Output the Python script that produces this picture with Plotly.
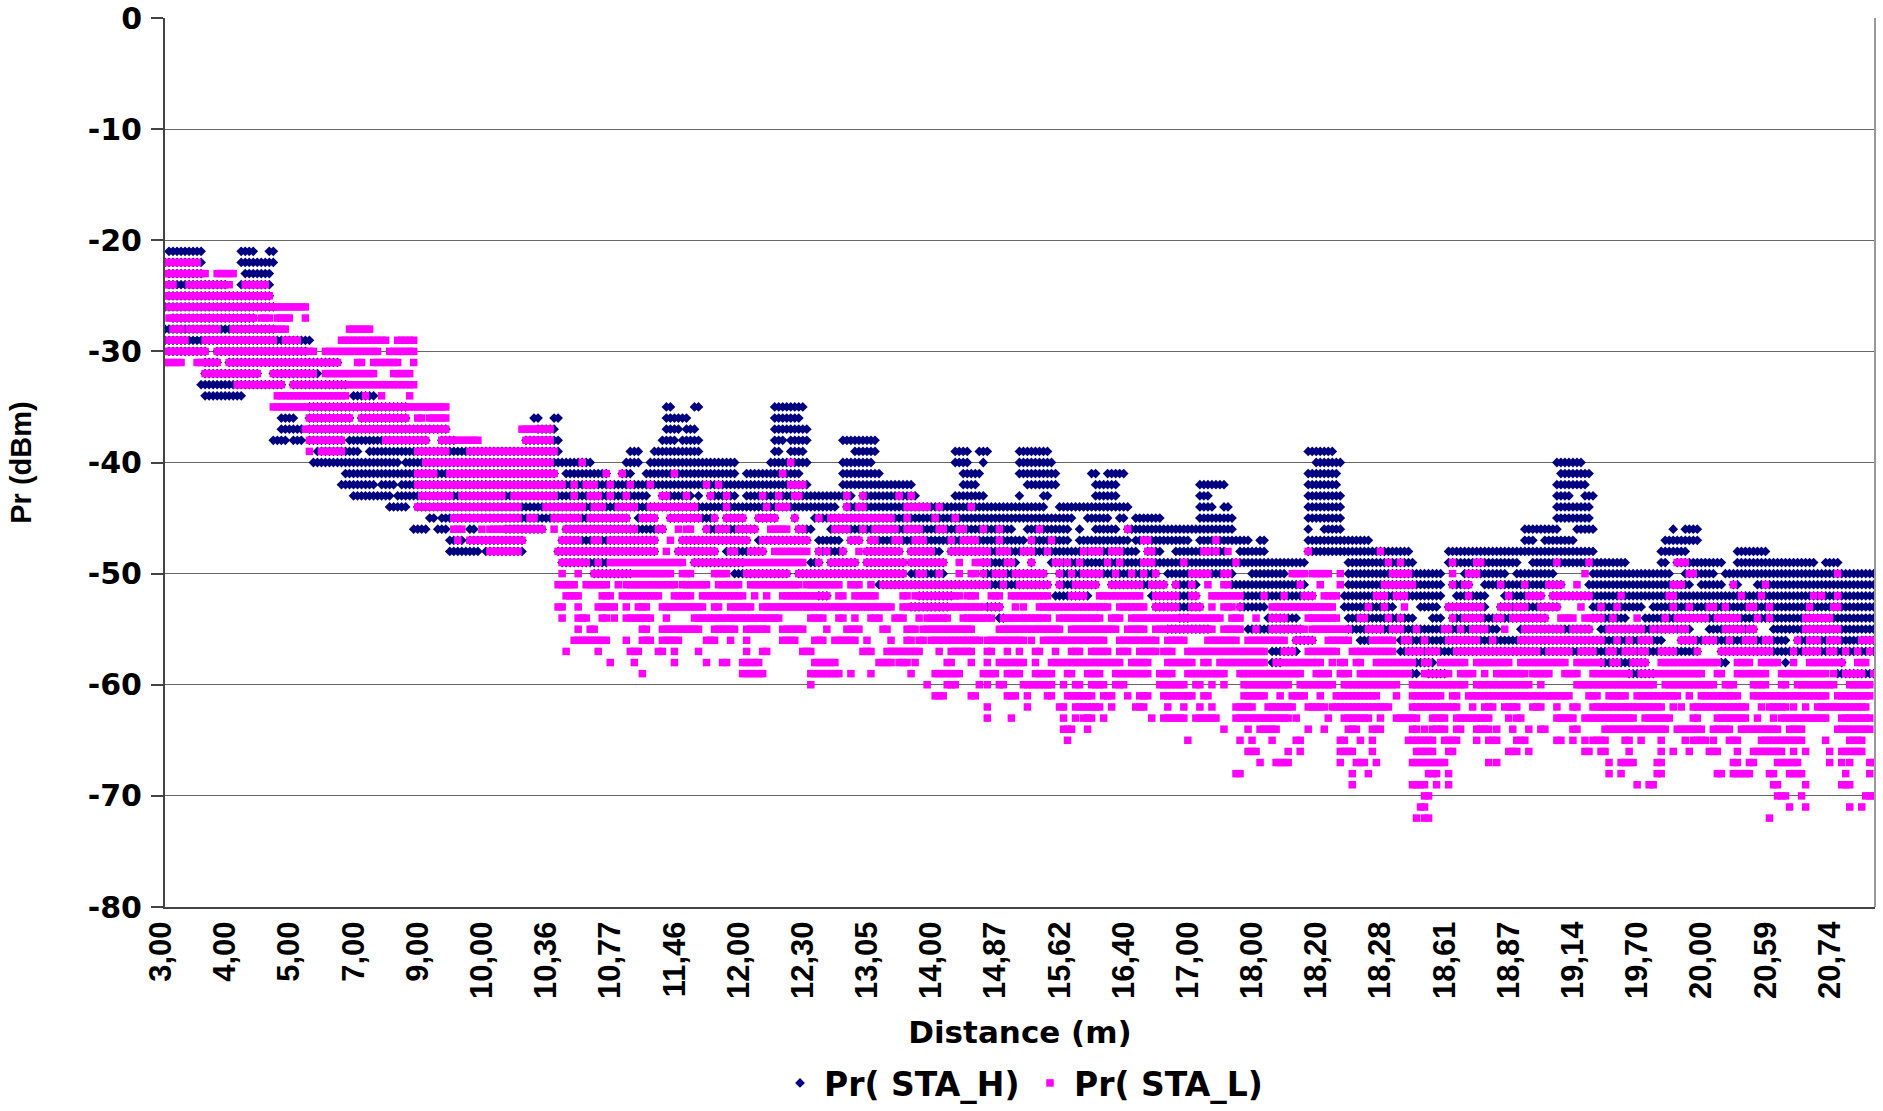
import plotly.graph_objects as go

# Sample index on a category axis: 16 samples between printed labels.
DIST_LABELS = ["3,00","4,00","5,00","7,00","9,00","10,00","10,36","10,77","11,46","12,00","12,30","13,05","14,00",
               "14,87","15,62","16,40","17,00","18,00","18,20","18,28","18,61","18,87","19,14","19,70","20,00","20,59","20,74"]
LABEL_STEP = 16
N_SAMPLES = 427

# Received power readings, run-length coded: {dBm level: runs of consecutive samples}
PR_STA_H = {
-21:[(1,9),(19,22),(26,27)],
-22:[(0,9),(19,27)],
-23:[(1,9),(20,26)],
-24:[(1,15),(19,26)],
-25:[(1,26)],
-26:[(0,27)],
-27:[(2,22)],
-28:[(0,27)],
-29:[(0,36)],
-30:[(1,10),(13,35)],
-31:[(10,13),(16,43)],
-32:[(10,23),(27,38)],
-33:[(9,29),(32,45)],
-34:[(10,19),(47,52)],
-35:[(36,60),(125,126),(132,133),(152,159)],
-36:[(29,32),(36,46),(49,60),(92,93),(97,98),(125,130),(152,158)],
-37:[(29,34),(36,70),(93,97),(125,128),(130,132),(152,160)],
-38:[(27,30),(32,34),(36,44),(46,65),(69,72),(90,98),(124,127),(129,133),(152,154),(156,160),(169,177)],
-39:[(38,48),(51,98),(116,118),(122,133),(152,153),(156,159),(172,177),(197,200),(203,205),(213,220),(285,291)],
-40:[(37,58),(60,106),(115,118),(121,142),(151,160),(169,176),(197,200),(204,204),(213,221),(287,293),(347,353)],
-41:[(45,97),(100,110),(114,116),(120,142),(145,158),(169,178),(199,203),(213,222),(231,232),(235,239),(285,292),(348,355)],
-42:[(44,52),(54,57),(59,160),(169,186),(199,202),(215,222),(232,237),(258,264),(285,292),(347,354)],
-43:[(47,56),(58,120),(124,131),(133,133),(136,142),(145,171),(174,187),(197,204),(213,213),(219,220),(232,237),(258,260),(285,293),(347,350),(354,356)],
-44:[(56,60),(63,167),(170,219),(223,240),(258,261),(264,265),(285,293),(347,355)],
-45:[(66,67),(69,115),(118,122),(126,137),(140,144),(148,152),(157,157),(162,226),(230,235),(238,239),(242,248),(258,266),(285,293),(347,355)],
-46:[(62,65),(68,70),(76,77),(85,94),(100,122),(123,124),(135,147),(158,161),(166,211),(215,225),(228,228),(232,237),(240,266),(285,285),(289,293),(339,347),(352,356),(376,376),(379,382)],
-47:[(71,74),(76,89),(99,122),(129,145),(148,160),(163,168),(171,173),(176,214),(216,225),(228,240),(242,255),(258,270),(273,274),(285,300),(339,341),(344,351),(374,382)],
-48:[(71,78),(80,89),(98,122),(128,137),(140,149),(163,169),(175,183),(186,193),(196,242),(245,248),(252,264),(268,274),(285,310),(320,356),(373,379),(392,399)],
-49:[(99,110),(132,144),(161,163),(166,172),(175,184),(186,194),(204,212),(216,216),(221,284),(295,311),(320,337),(341,364),(373,374),(377,388),(392,411),(414,417)],
-50:[(107,116),(142,155),(158,184),(186,194),(204,219),(223,247),(250,266),(271,279),(295,318),(324,334),(337,346),(356,375),(379,386),(389,426)],
-51:[(178,220),(223,232),(236,249),(252,257),(266,284),(295,318),(321,325),(329,348),(355,380),(383,388),(391,392),(397,427)],
-52:[(163,165),(188,196),(222,230),(246,257),(269,286),(294,318),(322,329),(334,343),(346,355),(356,427)],
-53:[(186,195),(205,208),(247,258),(268,274),(294,306),(313,317),(320,329),(333,347),(356,368),(371,427)],
-54:[(208,209),(253,255),(275,282),(295,311),(316,318),(321,344),(356,364),(369,426)],
-55:[(250,260),(270,283),(295,332),(338,355),(358,380),(385,396),(401,426)],
-56:[(282,286),(298,300),(308,373),(378,404),(407,426)],
-57:[(276,282),(308,382),(388,426)],
-58:[(276,278),(312,316),(358,369),(388,389),(404,404),(418,418)],
-59:[(311,312),(315,319),(365,371),(417,427)],
}

PR_STA_L = {
-22:[(0,8)],
-23:[(0,10),(13,17)],
-24:[(0,2),(6,16),(20,25)],
-25:[(0,26)],
-26:[(1,35)],
-27:[(1,22),(24,26),(28,31),(35,35)],
-28:[(2,4),(6,13),(17,30),(46,51)],
-29:[(1,5),(10,27),(30,33),(44,55),(58,62)],
-30:[(0,10),(13,37),(40,53),(56,62)],
-31:[(0,4),(8,13),(16,43),(48,49),(52,58),(62,62)],
-32:[(10,23),(27,37),(40,52),(57,61)],
-33:[(18,29),(32,62)],
-34:[(28,45),(50,50),(54,54),(61,61)],
-35:[(27,70)],
-36:[(36,46),(49,60),(63,64),(66,70)],
-37:[(35,70),(89,96)],
-38:[(36,44),(55,65),(69,78),(90,96)],
-39:[(36,36),(39,44),(63,70),(76,97)],
-40:[(65,96),(104,104),(156,156)],
-41:[(63,67),(71,97),(110,110),(114,114),(127,127),(154,154)],
-42:[(63,99),(102,102),(105,107),(111,111),(116,116),(121,121),(135,135),(138,138),(156,159)],
-43:[(64,71),(74,84),(87,97),(102,102),(106,108),(111,111),(115,115),(124,125),(130,130),(136,136),(140,140),(149,149),(153,153),(157,158),(170,170),(174,174),(183,183),(186,186)],
-44:[(63,88),(95,104),(107,109),(113,117),(121,132),(140,140),(150,150),(153,155),(170,170),(173,174),(185,190),(193,193),(201,201)],
-45:[(72,88),(91,92),(97,103),(106,115),(119,122),(126,133),(137,137),(140,144),(148,152),(157,157),(163,163),(166,181),(185,185),(192,192),(197,197)],
-46:[(72,74),(79,79),(81,94),(97,97),(100,117),(123,124),(128,128),(130,131),(135,135),(138,140),(143,147),(151,155),(158,159),(167,170),(174,174),(177,182),(185,188),(193,194),(198,199),(204,204),(208,208),(218,218),(240,240)],
-47:[(73,73),(76,89),(99,103),(107,108),(111,122),(126,126),(129,145),(149,160),(171,173),(176,177),(182,183),(187,189),(196,196),(199,202),(208,208),(216,216),(221,221),(244,245),(262,262)],
-48:[(81,88),(98,122),(125,125),(128,137),(141,142),(146,149),(152,160),(163,163),(165,165),(169,169),(173,173),(175,183),(186,191),(196,203),(204,205),(208,210),(214,216),(220,220),(229,229),(231,233),(236,238),(245,246),(259,260),(262,262),(265,265),(285,285),(303,303)],
-49:[(99,105),(108,108),(111,129),(132,159),(163,163),(166,172),(175,184),(186,194),(198,198),(202,205),(210,211),(216,216),(222,223),(225,225),(228,228),(235,235),(238,238),(244,246),(254,254),(267,267),(305,305),(308,308),(321,321),(327,328),(347,347),(355,355),(377,379)],
-50:[(99,99),(103,103),(107,126),(129,131),(137,140),(145,155),(158,184),(188,189),(193,193),(198,198),(201,202),(204,204),(207,209),(212,219),(223,223),(226,226),(229,233),(237,237),(241,241),(244,244),(247,247),(256,260),(264,265),(281,284),(286,290),(293,293),(306,310),(321,321),(325,327),(354,354),(380,381),(417,417)],
-51:[(98,102),(105,110),(113,113),(115,127),(129,135),(138,143),(146,158),(160,168),(171,173),(176,176),(179,205),(209,209),(213,220),(223,223),(227,232),(236,243),(246,249),(252,252),(256,256),(260,260),(264,265),(283,283),(288,288),(293,293),(304,311),(321,321),(324,325),(333,333),(339,339),(345,348),(352,352),(376,378),(391,391),(399,399)],
-52:[(100,103),(109,111),(114,123),(127,131),(134,144),(147,147),(150,150),(154,165),(168,169),(172,177),(184,185),(187,198),(200,202),(206,208),(211,220),(226,229),(233,243),(247,252),(256,257),(261,268),(274,274),(279,279),(284,286),(289,292),(302,304),(307,309),(325,325),(335,335),(340,343),(346,355),(363,363),(375,376),(393,393),(398,398),(411,411),(413,413),(417,417)],
-53:[(98,99),(103,103),(108,112),(115,115),(118,120),(124,134),(137,138),(141,146),(149,181),(184,204),(206,208),(212,212),(214,214),(218,235),(238,244),(247,252),(256,258),(261,261),(264,266),(268,268),(276,291),(300,300),(304,304),(309,309),(320,328),(333,335),(337,339),(343,347),(353,353),(358,358),(362,362),(376,376),(380,380),(385,386),(389,389),(395,396),(400,400),(410,410),(416,417)],
-54:[(99,99),(103,105),(109,110),(112,112),(115,121),(125,125),(132,153),(161,164),(168,169),(172,172),(176,178),(182,184),(188,188),(190,195),(199,206),(209,220),(223,233),(236,238),(241,263),(266,268),(272,272),(276,279),(285,292),(298,299),(305,305),(308,308),(321,321),(324,328),(332,333),(336,344),(348,351),(354,358),(361,361),(367,367),(374,374),(377,384),(387,392),(397,397),(400,400),(409,415)],
-55:[(103,103),(106,107),(119,120),(124,133),(137,142),(145,150),(154,159),(165,165),(170,173),(179,180),(185,187),(189,201),(208,223),(226,237),(240,244),(247,261),(264,268),(272,272),(276,284),(286,295),(300,303),(306,308),(312,312),(319,320),(323,323),(326,329),(334,334),(339,348),(351,355),(360,368),(371,371),(373,376),(378,379),(389,393),(395,396),(409,417)],
-56:[(102,110),(115,115),(119,121),(124,128),(135,137),(141,141),(145,145),(154,157),(162,164),(167,172),(175,175),(181,181),(185,186),(188,189),(191,203),(205,214),(216,216),(219,234),(238,247),(250,254),(260,267),(270,279),(282,286),(290,295),(301,306),(309,310),(314,314),(320,327),(331,331),(338,358),(362,362),(365,365),(368,370),(378,381),(384,386),(390,390),(394,396),(399,400),(407,407),(410,412),(415,417),(423,426)],
-57:[(100,100),(108,108),(116,118),(123,124),(127,127),(133,133),(145,145),(149,150),(159,161),(174,176),(180,188),(193,193),(196,201),(205,206),(210,210),(213,213),(217,218),(222,222),(226,228),(231,235),(238,240),(243,247),(249,251),(255,274),(279,281),(285,292),(296,306),(310,313),(315,317),(322,342),(345,350),(353,356),(360,361),(364,366),(368,369),(373,376),(382,382),(388,400),(406,406),(409,412),(415,416),(419,419),(422,422),(425,425)],
-58:[(111,111),(117,117),(127,127),(135,135),(139,140),(144,148),(162,167),(178,181),(183,185),(187,187),(195,196),(201,201),(205,205),(208,214),(217,217),(221,238),(241,245),(250,256),(259,260),(263,274),(277,288),(291,291),(293,294),(297,298),(302,311),(314,315),(318,324),(327,335),(338,349),(352,358),(361,362),(366,369),(373,387),(392,395),(398,402),(406,406),(410,418),(422,424),(427,427)],
-59:[(119,119),(144,149),(161,168),(171,171),(176,176),(186,186),(192,198),(204,207),(210,213),(217,221),(225,226),(230,233),(237,245),(248,251),(255,264),(268,283),(287,290),(293,295),(298,310),(314,320),(323,326),(329,329),(332,339),(341,345),(349,352),(356,365),(368,383),(387,388),(392,399),(403,414),(416,416),(419,423),(426,427)],
-60:[(161,161),(190,190),(195,197),(203,203),(205,205),(208,209),(214,221),(224,224),(227,228),(231,234),(237,239),(248,254),(257,258),(261,261),(264,264),(269,280),(283,291),(294,307),(311,324),(327,340),(343,343),(352,371),(374,386),(389,391),(396,399),(403,404),(407,416),(420,425)],
-61:[(192,194),(201,202),(210,212),(215,215),(220,221),(225,231),(234,236),(240,240),(243,245),(249,256),(259,260),(269,274),(278,278),(281,284),(288,288),(292,302),(307,307),(311,318),(321,322),(325,350),(355,357),(360,364),(367,377),(380,380),(383,392),(396,414),(417,425)],
-62:[(205,205),(215,215),(223,224),(227,233),(236,236),(242,244),(250,250),(254,254),(258,258),(261,261),(267,271),(275,281),(285,289),(291,305),(311,322),(326,326),(329,331),(334,337),(341,343),(347,347),(351,352),(356,373),(376,376),(378,378),(381,394),(398,398),(400,404),(406,406),(409,409),(412,424)],
-63:[(205,205),(211,211),(224,224),(227,227),(229,231),(234,234),(246,246),(249,254),(257,262),(267,280),(282,282),(290,290),(294,300),(303,303),(307,312),(316,319),(322,330),(335,335),(337,338),(347,351),(354,366),(369,375),(381,382),(387,394),(397,397),(401,401),(403,414),(418,425)],
-64:[(224,226),(230,230),(264,264),(270,270),(273,277),(285,285),(289,289),(295,297),(301,303),(311,312),(314,314),(316,319),(322,323),(327,330),(332,332),(336,336),(340,340),(343,344),(351,352),(359,374),(377,383),(386,390),(393,402),(405,408),(417,425)],
-65:[(225,225),(255,255),(268,268),(271,271),(276,276),(282,283),(293,294),(298,298),(301,301),(310,316),(319,322),(327,327),(330,332),(337,339),(347,348),(351,351),(354,354),(356,359),(364,365),(368,368),(373,373),(379,379),(381,384),(386,386),(390,392),(398,408),(414,414),(420,423)],
-66:[(270,272),(280,280),(283,283),(293,296),(301,301),(312,316),(320,321),(335,337),(340,340),(354,355),(358,359),(365,365),(373,373),(376,376),(380,380),(385,387),(392,392),(396,403),(406,406),(409,409),(415,415),(418,423)],
-67:[(273,273),(277,280),(293,293),(297,299),(302,302),(311,319),(330,330),(332,332),(360,360),(363,366),(372,373),(391,392),(395,396),(402,407),(415,415),(418,418),(420,420),(425,426)],
-68:[(267,268),(296,296),(300,300),(315,317),(320,320),(360,360),(363,363),(372,373),(387,388),(391,395),(400,401),(405,408),(419,419),(425,425)],
-69:[(296,296),(311,314),(317,317),(320,320),(367,367),(370,371),(401,402),(409,409),(418,420)],
-70:[(314,315),(402,404),(408,408),(424,426)],
-71:[(313,314),(405,405),(409,409),(420,420),(423,423)],
-72:[(312,312),(314,315),(400,400)],
}

Y_TICKS = [0,-10,-20,-30,-40,-50,-60,-70,-80]
Y_LABELS = ["0","-10","-20","-30","-40","-50","-60","-70","-80"]
COLOR_H = "#000080"
COLOR_L = "#FF00FF"
SANS = "Liberation Sans, Arial, sans-serif"
WIDE = "DejaVu Sans, Verdana, sans-serif"


def expand(table):
    xs, ys = [], []
    for level, runs in table.items():
        for a, b in runs:
            for s in range(a, b + 1):
                xs.append(s)
                ys.append(level)
    return xs, ys


hx, hy = expand(PR_STA_H)
lx, ly = expand(PR_STA_L)

fig = go.Figure()
fig.add_trace(go.Scatter(x=hx, y=hy, mode="markers", name="Pr( STA_H)",
                         marker=dict(symbol="diamond", size=7.5, color=COLOR_H, line=dict(width=0))))
fig.add_trace(go.Scatter(x=lx, y=ly, mode="markers", name="Pr( STA_L)",
                         marker=dict(symbol="square", size=7.5, color=COLOR_L, line=dict(width=0))))

fig.update_layout(
    width=1883, height=1111, autosize=False,
    margin=dict(l=164.5, r=8, t=18, b=204, autoexpand=False),
    paper_bgcolor="white", plot_bgcolor="white",
    font=dict(family=SANS, color="black", size=29),
    showlegend=True,
    legend=dict(orientation="h", x=776 / 1883, xref="container", xanchor="left",
                y=-0.006, yref="container", yanchor="bottom",
                font=dict(family=WIDE, size=33, color="black", weight="bold"),
                itemwidth=38, entrywidth=197, entrywidthmode="pixels", tracegroupgap=0),
    xaxis=dict(
        range=[0, (N_SAMPLES - 1) + 0.3],
        tickmode="array",
        tickvals=[i * LABEL_STEP for i in range(len(DIST_LABELS))],
        ticktext=DIST_LABELS,
        tickangle=-90, ticklabelshift=-4,
        tickfont=dict(family=SANS, size=31, color="black", weight="bold"),
        ticks="", showgrid=False, zeroline=False,
        showline=True, linecolor="#444444", linewidth=2,
        title=dict(text="Distance (m)", font=dict(family=WIDE, size=31, color="black", weight="bold"), standoff=23),
    ),
    yaxis=dict(
        range=[-80, 0],
        tickmode="array", tickvals=Y_TICKS, ticktext=Y_LABELS,
        tickfont=dict(family=WIDE, size=30, color="black", weight="bold"),
        ticks="outside", ticklen=12, tickcolor="#444444", tickwidth=2, ticklabelstandoff=3,
        showgrid=True, gridcolor="#666666", gridwidth=1.2, zeroline=False,
        showline=True, linecolor="#444444", linewidth=2,
        title=dict(text="Pr (dBm)", font=dict(family=SANS, size=29, color="black", weight="bold"), standoff=48),
    ),
)
fig.add_shape(type="line", xref="paper", yref="paper", x0=1, x1=1, y0=0, y1=1, line=dict(color="#999999", width=2))

fig.write_html("out.html", post_script="document.body.style.margin='0';", config={"displayModeBar": False})
